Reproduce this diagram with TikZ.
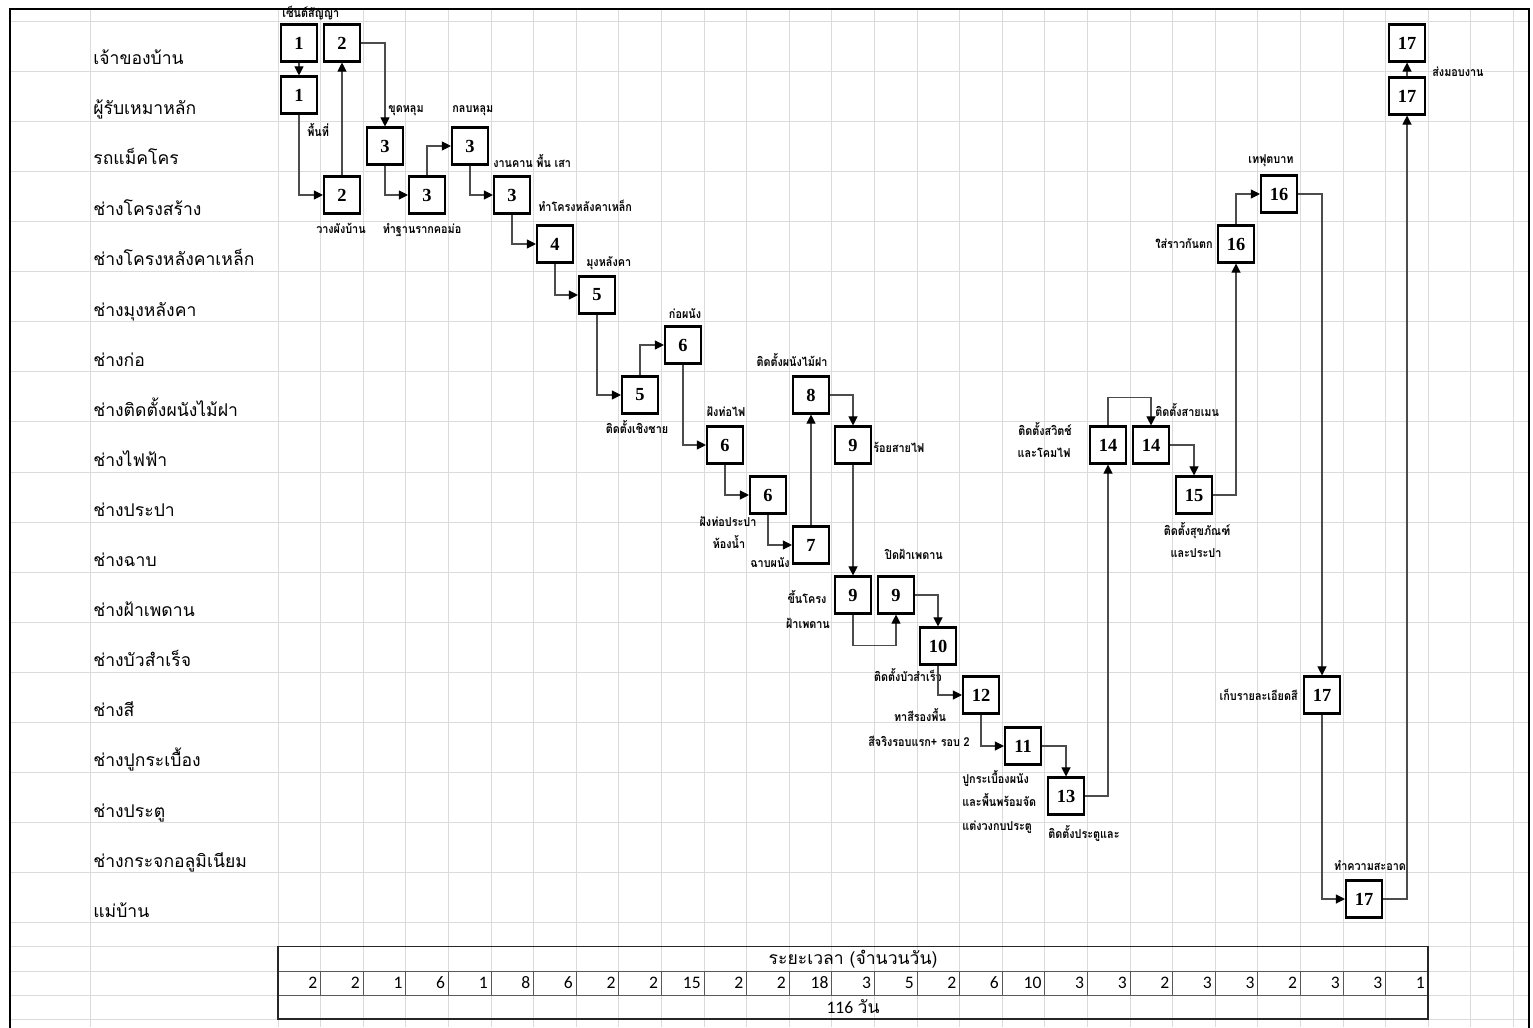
\documentclass[tikz,border=0pt]{standalone}
\usepackage{fontspec}
\setmainfont{Liberation Serif}
\newfontfamily\thaifont[Script=Thai]{Loma}
\newfontfamily\notefont[Script=Thai,FakeStretch=0.88]{Loma}
\newfontfamily\cellfont{Carlito}
\usepackage{tikz}
\usetikzlibrary{arrows.meta}
\colorlet{cGrid}{black!14}
\colorlet{cLine}{black!70}

\tikzset{
  task/.style={draw, line width=1.2pt, fill=white, minimum width=0.72cm, minimum height=0.74cm,
               inner sep=0pt, font=\fontsize{10.5}{12}\selectfont\bfseries},
  flow/.style={cLine, line width=0.6pt, -{Triangle[length=1.8mm,width=1.8mm,color=black]}},
  note/.style={inner sep=0pt, font=\notefont\bfseries\fontsize{7}{8}\selectfont},
  lane/.style={anchor=base west, inner sep=0pt, font=\thaifont\fontsize{10}{12}\selectfont},
  grid/.style={cGrid, line width=0.4pt},
  tab/.style={black!65, line width=0.5pt}
}

\begin{document}
\begin{tikzpicture}[x=0.02cm, y=-0.02cm]
  \useasboundingbox (0,0) rectangle (1533,1027);

  % sheet grid
  \foreach \gx in {0,...,29}
    \draw[grid] ({278+42.6*\gx},9) -- ({278+42.6*\gx},1027);
  \draw[grid] (90,9) -- (90,1027);
  \foreach \gy in {0,...,18}
    \draw[grid] (10,{21+50.1*\gy}) -- (1529,{21+50.1*\gy});
  \foreach \gy in {946.5,971,995,1019}
    \draw[grid] (10,\gy) -- (1529,\gy);
  \draw[line width=1.6pt] (10,1040) -- (10,9) -- (1529,9) -- (1529,1040);

  % lanes
  \node[lane] (l0) at (93,65) {เจ้าของบ้าน};
  \node[lane] (l1) at (93,115) {ผู้รับเหมาหลัก};
  \node[lane] (l2) at (93,165) {รถแม็คโคร};
  \node[lane] (l3) at (93,215) {ช่างโครงสร้าง};
  \node[lane] (l4) at (93,265) {ช่างโครงหลังคาเหล็ก};
  \node[lane] (l5) at (93,316) {ช่างมุงหลังคา};
  \node[lane] (l6) at (93,366) {ช่างก่อ};
  \node[lane] (l7) at (93,416) {ช่างติดตั้งผนังไม้ฝา};
  \node[lane] (l8) at (93,466) {ช่างไฟฟ้า};
  \node[lane] (l9) at (93,516) {ช่างประปา};
  \node[lane] (l10) at (93,566) {ช่างฉาบ};
  \node[lane] (l11) at (93,616) {ช่างฝ้าเพดาน};
  \node[lane] (l12) at (93,666) {ช่างบัวสำเร็จ};
  \node[lane] (l13) at (93,716) {ช่างสี};
  \node[lane] (l14) at (93,766) {ช่างปูกระเบื้อง};
  \node[lane] (l15) at (93,817) {ช่างประตู};
  \node[lane] (l16) at (93,867) {ช่างกระจกอลูมิเนียม};
  \node[lane] (l17) at (93,917) {แม่บ้าน};

  % tasks
  \node[task] (b1a) at (299,43) {1};
  \node[task] (b1b) at (299,95) {1};
  \node[task] (b2a) at (342,43) {2};
  \node[task] (b2b) at (342,195) {2};
  \node[task] (b3a) at (385,146) {3};
  \node[task] (b3b) at (427,195) {3};
  \node[task] (b3c) at (470,146) {3};
  \node[task] (b3d) at (512,195) {3};
  \node[task] (b4) at (555,244) {4};
  \node[task] (b5a) at (597,295) {5};
  \node[task] (b5b) at (640,395) {5};
  \node[task] (b6a) at (683,345) {6};
  \node[task] (b6b) at (725,445) {6};
  \node[task] (b6c) at (768,495) {6};
  \node[task] (b7) at (811,545) {7};
  \node[task] (b8) at (811,395) {8};
  \node[task] (b9a) at (853,445) {9};
  \node[task] (b9b) at (853,595) {9};
  \node[task] (b9c) at (896,595) {9};
  \node[task] (b10) at (938,646) {10};
  \node[task] (b12) at (981,695) {12};
  \node[task] (b11) at (1023,746) {11};
  \node[task] (b13) at (1066,796) {13};
  \node[task] (b14a) at (1108,445) {14};
  \node[task] (b14b) at (1151,445) {14};
  \node[task] (b15) at (1194,495) {15};
  \node[task] (b16a) at (1236,244) {16};
  \node[task] (b16b) at (1279,194) {16};
  \node[task] (b17a) at (1322,695) {17};
  \node[task] (b17b) at (1364,899) {17};
  \node[task] (b17c) at (1407,96) {17};
  \node[task] (b17d) at (1407,43) {17};

  % task notes
  \node[note, anchor=base west] (n1) at (282,18) {เซ็นต์สัญญา};
  \node[note, anchor=base west] (n2) at (307,137) {พื้นที่};
  \node[note, anchor=base] (n3) at (341,233) {วางผังบ้าน};
  \node[note, anchor=base west] (n4) at (388,113) {ขุดหลุม};
  \node[note, anchor=base] (n5) at (422,233) {ทำฐานรากคอม่อ};
  \node[note, anchor=base west] (n6) at (452,113) {กลบหลุม};
  \node[note, anchor=base west] (n7) at (493,168) {งานคาน พื้น เสา};
  \node[note, anchor=base west] (n8) at (538,212) {ทำโครงหลังคาเหล็ก};
  \node[note, anchor=base west] (n9) at (586,266) {มุงหลังคา};
  \node[note, anchor=base] (n10) at (685,318) {ก่อผนัง};
  \node[note, anchor=base] (n11) at (637,433) {ติดตั้งเชิงชาย};
  \node[note, anchor=base] (n12) at (726,416) {ฝังท่อไฟ};
  \node[note, anchor=base] (n13) at (792,366) {ติดตั้งผนังไม้ฝา};
  \node[note, anchor=base] (n14) at (728,526) {ฝังท่อประปา};
  \node[note, anchor=base] (n15) at (729,548) {ห้องน้ำ};
  \node[note, anchor=base west] (n16) at (873,452) {ร้อยสายไฟ};
  \node[note, anchor=base] (n17) at (770,567) {ฉาบผนัง};
  \node[note, anchor=base] (n18) at (807,603) {ขึ้นโครง};
  \node[note, anchor=base] (n19) at (808,628) {ฝ้าเพดาน};
  \node[note, anchor=base] (n20) at (914,559) {ปิดฝ้าเพดาน};
  \node[note, anchor=base] (n21) at (908,681) {ติดตั้งบัวสำเร็จ};
  \node[note, anchor=base] (n22) at (920,721) {ทาสีรองพื้น};
  \node[note, anchor=base] (n23) at (919,746) {สีจริงรอบแรก+ รอบ 2};
  \node[note, anchor=base west] (n24) at (962,783) {ปูกระเบื้องผนัง};
  \node[note, anchor=base west] (n25) at (962,806) {และพื้นพร้อมจัด};
  \node[note, anchor=base west] (n26) at (962,830) {แต่งวงกบประตู};
  \node[note, anchor=base west] (n27) at (1048,838) {ติดตั้งประตูและ};
  \node[note, anchor=base] (n28) at (1045,435) {ติดตั้งสวิตช์};
  \node[note, anchor=base] (n29) at (1044,457) {และโคมไฟ};
  \node[note, anchor=base west] (n30) at (1155,416) {ติดตั้งสายเมน};
  \node[note, anchor=base] (n31) at (1197,535) {ติดตั้งสุขภัณฑ์};
  \node[note, anchor=base] (n32) at (1196,557) {และประปา};
  \node[note, anchor=base east] (n33) at (1213,248) {ใส่ราวกันตก};
  \node[note, anchor=base] (n34) at (1271,164) {เทฟุตบาท};
  \node[note, anchor=base east] (n35) at (1298,700) {เก็บรายละเอียดสี};
  \node[note, anchor=base] (n36) at (1370,870) {ทำความสะอาด};
  \node[note, anchor=base west] (n37) at (1432,77) {ส่งมอบงาน};

  % links
  \draw[flow] (b1a) -- (b1b);
  \draw[flow] (b1b.south) |- (b2b.west);
  \draw[flow] (b2b) -- (b2a);
  \draw[flow] (b2a.east) -| (b3a.north);
  \draw[flow] (b3a.south) |- (b3b.west);
  \draw[flow] (b3b.north) |- (b3c.west);
  \draw[flow] (b3c.south) |- (b3d.west);
  \draw[flow] (b3d.south) |- (b4.west);
  \draw[flow] (b4.south) |- (b5a.west);
  \draw[flow] (b5a.south) |- (b5b.west);
  \draw[flow] (b5b.north) |- (b6a.west);
  \draw[flow] (b6a.south) |- (b6b.west);
  \draw[flow] (b6b.south) |- (b6c.west);
  \draw[flow] (b6c.south) |- (b7.west);
  \draw[flow] (b7) -- (b8);
  \draw[flow] (b8.east) -| (b9a.north);
  \draw[flow] (b9a) -- (b9b);
  \draw[flow] (b9b.south) -- ++(0,31) -| (b9c.south);
  \draw[flow] (b9c.east) -| (b10.north);
  \draw[flow] (b10.south) |- (b12.west);
  \draw[flow] (b12.south) |- (b11.west);
  \draw[flow] (b11.east) -| (b13.north);
  \draw[flow] (b13.east) -| (b14a.south);
  \draw[flow] (b14a.north) -- ++(0,-28) -| (b14b.north);
  \draw[flow] (b14b.east) -| (b15.north);
  \draw[flow] (b15.east) -| (b16a.south);
  \draw[flow] (b16a.north) |- (b16b.west);
  \draw[flow] (b16b.east) -| (b17a.north);
  \draw[flow] (b17a.south) |- (b17b.west);
  \draw[flow] (b17b.east) -| (b17c.south);
  \draw[flow] (b17c) -- (b17d);

  % duration table
  \draw[tab] (278,971) -- (1428,971) (278,995) -- (1428,995);
  \foreach \k in {1,...,26}
    \draw[tab] ({278+42.6*\k},971) -- ({278+42.6*\k},995);
  \draw[black!85, line width=0.8pt] (278,946.5) rectangle (1428,1019);
  \node[font=\thaifont\fontsize{10}{12}\selectfont] (head) at (853,959) {ระยะเวลา (จำนวนวัน)};
  \foreach \d [count=\k] in {2,2,1,6,1,8,6,2,2,15,2,2,18,3,5,2,6,10,3,3,2,3,3,2,3,3,1}
    \node[anchor=east, inner sep=0pt, font=\cellfont\fontsize{10}{12}\selectfont] (d\k) at ({278+42.6*\k-3},983) {\d};
  \node[font=\fontsize{10}{12}\selectfont] (total) at (853,1007) {{\cellfont 116} {\thaifont วัน}};
\end{tikzpicture}
\end{document}
